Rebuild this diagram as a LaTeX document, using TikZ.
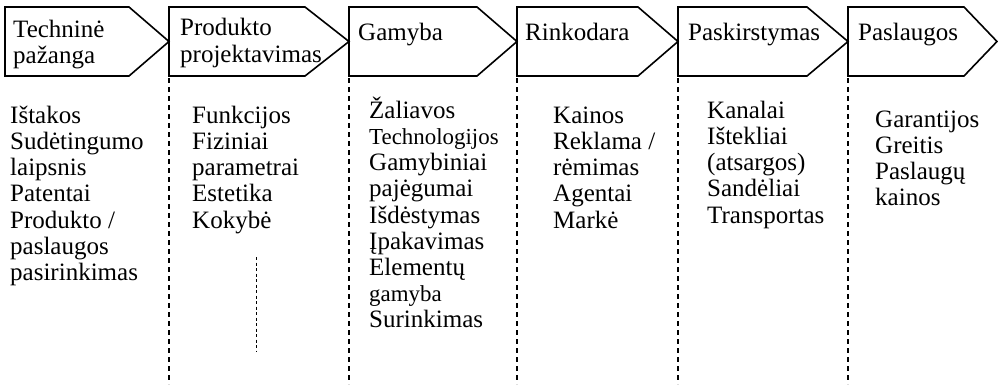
\documentclass[tikz,border=0pt]{standalone}
\usepackage{fontspec}
\setmainfont{Liberation Serif}
\newcommand{\fl}{\rule{0pt}{24pt}}
\newcommand{\sm}{\fontsize{22.9}{26.2}\selectfont}
\begin{document}
\begin{tikzpicture}[x=1pt,y=-1pt,
  stage/.style={draw=black,line width=1.6pt,line join=miter},
  sep/.style={draw=black,line width=1.4pt,dash pattern=on 5pt off 4pt},
  thinsep/.style={draw=black,line width=1pt,dash pattern=on 3pt off 2.5pt},
  txt/.style={inner sep=0pt,anchor=north west,align=left,font=\fontsize{25}{26.2}\selectfont},
  head/.style={inner sep=0pt,anchor=base west,align=left,font=\fontsize{25}{26.5}\selectfont}]
\useasboundingbox (0,0) rectangle (998,384);
% stage shapes
\draw[stage] (5,7) -- (129,7) -- (169,41.5) -- (129,76) -- (5,76) -- cycle;
\draw[stage] (169,7) -- (305,7) -- (349,41.5) -- (305,76) -- (169,76) -- cycle;
\draw[stage] (349,7) -- (477,7) -- (517,41.5) -- (477,76) -- (349,76) -- cycle;
\draw[stage] (517,7) -- (638,7) -- (678,41.5) -- (638,76) -- (517,76) -- cycle;
\draw[stage] (678,7) -- (807,7) -- (848,41.5) -- (807,76) -- (678,76) -- cycle;
\draw[stage] (848,7) -- (964,7) -- (997,41.5) -- (964,76) -- (848,76) -- cycle;
% headers
\node[head] (h1) at (13,37) {Techninė};
\node[head] (h1b) at (13,63) {pažanga};
\node[head] (h2) at (180,35) {Produkto};
\node[head] (h2b) at (180,62) {projektavimas};
\node[head] (h3) at (358,40) {Gamyba};
\node[head] (h4) at (525,40) {Rinkodara};
\node[head] (h5) at (688,40) {Paskirstymas};
\node[head] (h6) at (858,40) {Paslaugos};
% separators
\foreach \x/\n in {169/a,349/b,517/c,678/d,848/e}{
  \coordinate (s\n t) at (\x,78);
  \coordinate (s\n b) at (\x,384);
  \draw[sep] (s\n t) -- (s\n b);
}
\coordinate (ct) at (256,257);
\coordinate (cb) at (256,352);
\draw[thinsep] (ct) -- (cb);
% column texts
\node[txt] (c1) at (10,99) {\fl Ištakos\\Sudėtingumo\\laipsnis\\Patentai\\Produkto /\\paslaugos\\pasirinkimas};
\node[txt] (c2) at (192,99) {\fl Funkcijos\\Fiziniai\\parametrai\\Estetika\\Kokybė};
\node[txt] (c3) at (369,94) {\fl Žaliavos\\{\sm Technologijos}\\Gamybiniai\\pajėgumai\\Išdėstymas\\Įpakavimas\\Elementų\\{\sm gamyba}\\Surinkimas};
\node[txt] (c4) at (553,99) {\fl Kainos\\Reklama /\\rėmimas\\Agentai\\Markė};
\node[txt] (c5) at (707,94) {\fl Kanalai\\Ištekliai\\(atsargos)\\Sandėliai\\Transportas};
\node[txt] (c6) at (875,103) {\fl Garantijos\\Greitis\\Paslaugų\\kainos};
\end{tikzpicture}
\end{document}
